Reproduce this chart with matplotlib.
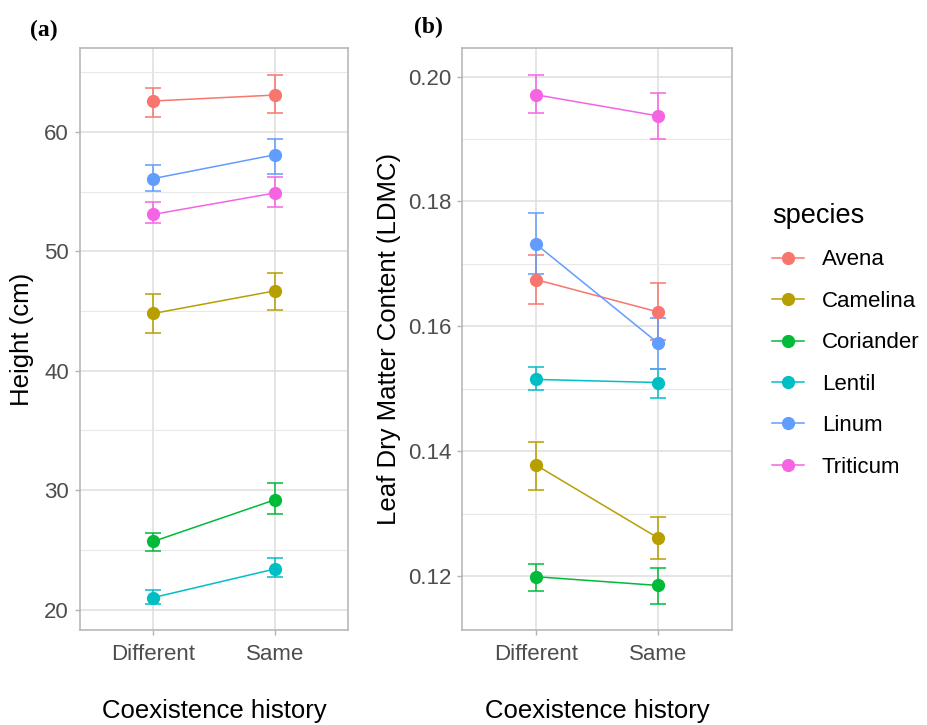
import matplotlib
matplotlib.use("Agg")
import matplotlib.pyplot as plt
from matplotlib.ticker import MultipleLocator, FormatStrFormatter
from matplotlib.lines import Line2D

plt.rcParams['font.family'] = ['Liberation Sans', 'DejaVu Sans']

# ---------------------------------
# Data
# ---------------------------------
history = ["Different", "Same"]
species = ["Avena", "Camelina", "Coriander", "Lentil", "Linum", "Triticum"]
colours = ["#F8766D", "#B79F00", "#00BA38", "#00BFC4", "#619CFF", "#F564E3"]

# (a) plant height, cm: mean and error bar ends, [Different, Same]
height_mean = [[62.6, 63.1], [44.8, 46.7], [25.7, 29.2], [21.0, 23.4], [56.1, 58.1], [53.1, 54.9]]
height_lo = [[61.3, 61.6], [43.2, 45.1], [24.9, 28.0], [20.5, 22.7], [55.1, 56.5], [52.4, 53.7]]
height_hi = [[63.7, 64.8], [46.4, 48.2], [26.4, 30.6], [21.6, 24.3], [57.2, 59.4], [54.1, 56.2]]

# (b) leaf dry matter content
ldmc_mean = [[0.1675, 0.1623], [0.1378, 0.1261], [0.1199, 0.1185], [0.1515, 0.1510], [0.1732, 0.1573], [0.1971, 0.1937]]
ldmc_lo = [[0.1636, 0.1578], [0.1338, 0.1227], [0.1176, 0.1156], [0.1498, 0.1486], [0.1684, 0.1532], [0.1942, 0.1900]]
ldmc_hi = [[0.1714, 0.1669], [0.1415, 0.1295], [0.1219, 0.1213], [0.1535, 0.1532], [0.1781, 0.1614], [0.2003, 0.1974]]

# ---------------------------------
# Figure
# ---------------------------------
fig = plt.figure(figsize=(9.27, 7.25), dpi=100)
W, H = 927, 725
ax_a = fig.add_axes([80 / W, 1 - 630 / H, 268.3 / W, 581.7 / H])
ax_b = fig.add_axes([462.3 / W, 1 - 630 / H, 269.4 / W, 581.7 / H])


def draw_panel(ax, means, los, his, ylabel, major, minor, fmt, label_x):
    x = list(range(len(history)))
    for name, col, m, lo, hi in zip(species, colours, means, los, his):
        yerr = [[mm - l for mm, l in zip(m, lo)], [h - mm for mm, h in zip(m, hi)]]
        ax.errorbar(x, m, yerr=yerr, color=col, lw=1.1, marker="o", ms=8.5,
                    capsize=5.5, capthick=1.1, elinewidth=1.1, label=name, zorder=3)

    # ggplot-style expansion
    lo_all = min(min(v) for v in los)
    hi_all = max(max(v) for v in his)
    pad = (hi_all - lo_all) * 0.05
    ax.set_ylim(lo_all - pad, hi_all + pad)
    ax.set_xlim(-0.6, len(history) - 0.4)

    ax.set_xticks(x)
    ax.set_xticklabels(history)
    ax.yaxis.set_major_locator(MultipleLocator(major))
    ax.yaxis.set_minor_locator(MultipleLocator(minor))
    ax.yaxis.set_major_formatter(FormatStrFormatter(fmt))

    ax.grid(True, which="major", color="#DEDEDE", lw=1.1, zorder=0)
    ax.grid(True, which="minor", axis="y", color="#E8E8E8", lw=0.8, zorder=0)
    ax.set_axisbelow(True)
    for s in ax.spines.values():
        s.set_color("#B3B3B3")
        s.set_linewidth(1.1)
    ax.tick_params(which="major", color="#B3B3B3", length=3.5, width=1.0,
                   labelsize=16, labelcolor="#4D4D4D", pad=4.5)
    ax.tick_params(axis="x", pad=6.5)
    ax.tick_params(which="minor", length=0)

    ax.set_xlabel("Coexistence history", fontsize=18.5, labelpad=24.5)
    ax.set_ylabel(ylabel, fontsize=18.5)
    ax.yaxis.set_label_coords(label_x, 0.5)


draw_panel(ax_a, height_mean, height_lo, height_hi, "Height (cm)", 10, 5, "%d", -0.171)
draw_panel(ax_b, ldmc_mean, ldmc_lo, ldmc_hi, "Leaf Dry Matter Content (LDMC)", 0.02, 0.01, "%.2f", -0.228)

fig.text(44 / W, 1 - 30 / H, "(a)", fontsize=17, fontweight="bold",
         family="Liberation Serif", ha="center", va="center")
fig.text(428 / W, 1 - 27 / H, "(b)", fontsize=17, fontweight="bold",
         family="Liberation Serif", ha="center", va="center")

# legend
handles = [Line2D([0], [0], color=c, lw=1.1, marker="o", ms=8.5) for c in colours]
leg = fig.legend(handles, species, loc="upper left", bbox_to_anchor=(772 / W, 1 - 203 / H),
                 frameon=False, title="species", title_fontsize=19.5, fontsize=16,
                 handlelength=1.45, handletextpad=0.8, labelspacing=0.92,
                 borderpad=0, borderaxespad=0, alignment="left")

fig.savefig("out.png", dpi=100)
